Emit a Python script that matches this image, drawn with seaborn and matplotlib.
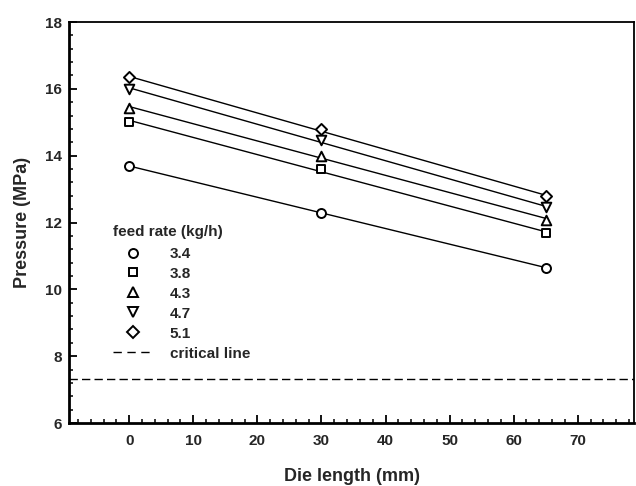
import matplotlib
matplotlib.use("Agg")
import matplotlib.pyplot as plt
from matplotlib.ticker import MultipleLocator
from matplotlib.lines import Line2D
import seaborn as sns
import pandas as pd

# Die lengths tested (mm)
die_length = [0, 30, 65]

# Feed rates (kg/h) and measured pressures (MPa)
feed_rates = ["3.4", "3.8", "4.3", "4.7", "5.1"]
p_34 = [13.69, 12.29, 10.65]
p_38 = [15.02, 13.59, 11.69]
p_43 = [15.43, 14.00, 12.09]
p_47 = [15.99, 14.47, 12.45]
p_51 = [16.34, 14.79, 12.79]
critical_pressure = 7.32

series = [p_34, p_38, p_43, p_47, p_51]
markers = ["o", "s", "^", "v", "D"]
sizes = [42, 38, 48, 48, 32]

sns.set_theme(style="white")
plt.rcParams["font.family"] = ["Liberation Sans", "DejaVu Sans"]
plt.rcParams["font.weight"] = "bold"

fig = plt.figure(figsize=(6.36, 4.86), dpi=100)
ax = fig.add_axes([0.1085, 0.1296, 0.8885, 0.8251])

handles = []
for rate, vals, m, s in zip(feed_rates, series, markers, sizes):
    df = pd.DataFrame({"die": die_length, "p": vals})
    sns.regplot(data=df, x="die", y="p", ax=ax, scatter=False, ci=None,
                truncate=True, color="black", line_kws={"lw": 1.0})
    sns.scatterplot(data=df, x="die", y="p", ax=ax, marker=m, s=s,
                    facecolor="white", edgecolor="black", linewidth=1.4,
                    zorder=5, legend=False)
    handles.append(Line2D([], [], ls="none", marker=m, markersize=(s ** 0.5),
                          markerfacecolor="white", markeredgecolor="black",
                          markeredgewidth=1.4, label=rate))

ax.axhline(critical_pressure, color="black", lw=1.0, ls=(0, (6, 3)))
handles.append(Line2D([], [], color="black", lw=1.0, ls=(0, (6, 4)),
                      label="critical line"))

ax.set_xlim(-9.4, 78.8)
ax.set_ylim(6, 18)
ax.xaxis.set_major_locator(MultipleLocator(10))
ax.xaxis.set_minor_locator(MultipleLocator(2))
ax.yaxis.set_major_locator(MultipleLocator(2))
ax.yaxis.set_minor_locator(MultipleLocator(0.4))
ax.set_xticks(range(0, 80, 10))

ax.tick_params(axis="both", which="both", direction="in", color="black",
               bottom=True, left=True, top=False, right=False)
ax.tick_params(axis="both", which="major", length=6, width=1.3, labelsize=11)
ax.tick_params(axis="both", which="minor", length=3, width=1.1)
ax.tick_params(axis="x", which="major", pad=8)
ax.tick_params(axis="y", which="major", pad=5)
for lab in ax.get_xticklabels() + ax.get_yticklabels():
    lab.set_fontweight("bold")

for side in ["left", "bottom"]:
    ax.spines[side].set_linewidth(2.0)
for side in ["top", "right"]:
    ax.spines[side].set_linewidth(1.3)
for sp in ax.spines.values():
    sp.set_color("black")

ax.set_xlabel("Die length (mm)", fontsize=13, fontweight="bold", labelpad=14)
ax.set_ylabel("Pressure (MPa)", fontsize=13, fontweight="bold", labelpad=10)

leg = ax.legend(handles=handles, title="feed rate (kg/h)", loc="upper left",
                bbox_to_anchor=(0.078, 0.495), frameon=False, fontsize=11,
                title_fontsize=11, handlelength=2.6, handletextpad=1.1,
                labelspacing=0.39, borderpad=0, borderaxespad=0)
leg.get_title().set_fontweight("bold")
leg._legend_box.align = "left"
leg._legend_box.sep = 6
for t in leg.get_texts():
    t.set_fontweight("bold")

fig.savefig("out.png", dpi=100)
